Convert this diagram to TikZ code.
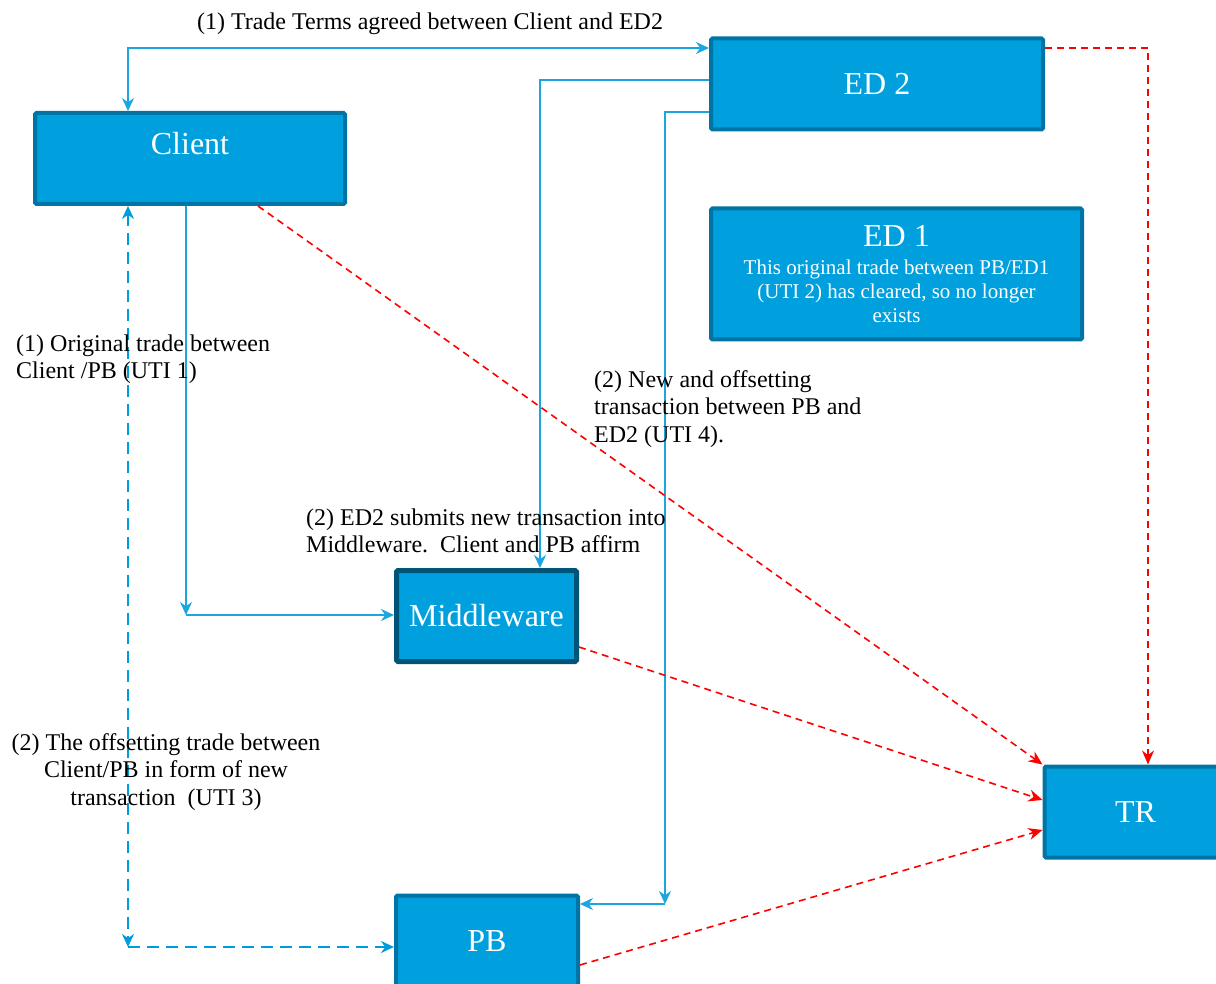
\documentclass[tikz,border=0pt]{standalone}
\usepackage{fontspec}
\setmainfont{Liberation Serif}
\usetikzlibrary{arrows.meta}
\definecolor{boxfill}{RGB}{0,160,222}
\definecolor{boxedge}{RGB}{0,117,165}
\definecolor{mwedge}{RGB}{0,84,120}
\definecolor{flowblue}{RGB}{27,166,224}
\definecolor{dashblue}{RGB}{0,155,218}

\begin{document}
\begin{tikzpicture}[x=1pt,y=-1pt,>={Stealth[length=13pt,width=12pt]},
  box/.style={draw=boxedge,line width=4pt,fill=boxfill,rounded corners=1.5pt,
    text=white,align=center,font=\fontsize{32}{37}\selectfont,minimum height=91pt},
  flow/.style={draw=flowblue,line width=1.6pt},
  flowdash/.style={draw=dashblue,line width=2.2pt,dash pattern=on 12pt off 7pt},
  report/.style={draw=red,line width=1.6pt,dash pattern=on 7pt off 5pt,
    >={Stealth[length=14pt,width=12pt]}},
  note/.style={inner sep=0pt,font=\fontsize{24}{27.5}\selectfont}]
\useasboundingbox (0,0) rectangle (1216,984);

% boxes
\node[box,minimum width=310pt] (client) at (190,158.5) {Client\\[-6pt]\mbox{}};
\node[box,minimum width=332pt] (ed2) at (877,84) {ED 2};
\node[box,minimum width=371pt,minimum height=131pt,font=\fontsize{21}{24}\selectfont] (ed1) at (896.5,274)
  {{\fontsize{32}{37}\selectfont ED 1}\\[4.5pt]This original trade between PB/ED1\\(UTI 2) has cleared, so no longer\\exists};
\node[box,draw=mwedge,line width=5pt,minimum width=180pt] (mw) at (486.5,616) {Middleware};
\node[box,minimum width=182pt] (pb) at (487,941) {PB};
\node[box,minimum width=182pt] (tr) at (1135.5,812) {TR};

% elbows
\coordinate (mwcorner) at (186,615);
\coordinate (pbcorner) at (665,904);
\coordinate (dashcorner) at (128,947);

% blue flows
\draw[flow,<->] ([xshift=-62pt]client.north) |- ([yshift=36pt]ed2.west);
\draw[flow,->] ([yshift=4pt]ed2.west) -| ([xshift=53.5pt]mw.north);
\draw[flow,->] ([yshift=-28pt]ed2.west) -| (pbcorner);
\draw[flow,->] (pbcorner) -- (pbcorner -| pb.east);
\draw[flow,->] ([xshift=-4pt]client.south) -- (mwcorner);
\draw[flow,->] (mwcorner) -- (mwcorner -| mw.west);
\draw[flowdash,<->] ([xshift=-62pt]client.south) -- (dashcorner);
\draw[flowdash,->] (dashcorner) -- (dashcorner -| pb.west);

% reporting to TR
\draw[report,->] ([xshift=68pt]client.south) -- (tr.north west);
\draw[report,->] ([yshift=-31pt]mw.east) -- ([yshift=12pt]tr.west);
\draw[report,->] ([yshift=-24pt]pb.east) -- ([yshift=-18pt]tr.west);
\draw[report,->] ([yshift=36pt]ed2.east) -| ([xshift=12.5pt]tr.north);

% labels
\node[note] (terms) at (430,24) {(1) Trade Terms agreed between Client and ED2};
\node[note,align=left,anchor=west] (orig) at (16,359) {(1) Original trade between\\Client /PB (UTI 1)};
\node[note,align=left,anchor=west] (offset4) at (594,409) {(2) New and offsetting\\transaction between PB and\\ED2 (UTI 4).};
\node[note,align=left,anchor=west] (submit) at (306,531) {(2) ED2 submits new transaction into\\Middleware.\ \ Client and PB affirm};
\node[note,align=center] (offset3) at (166,772) {(2) The offsetting trade between\\Client/PB in form of new\\transaction\ \ (UTI 3)};
\end{tikzpicture}
\end{document}
